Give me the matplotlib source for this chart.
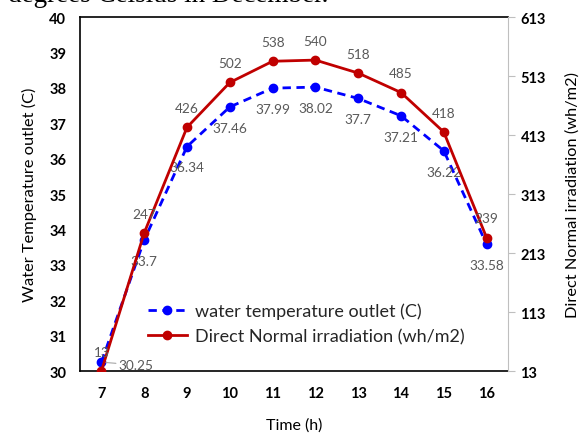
import matplotlib.pyplot as plt

plt.rcParams['font.family'] = ['Lato', 'DejaVu Sans']

hours = [7, 8, 9, 10, 11, 12, 13, 14, 15, 16]
water_temp = [30.25, 33.7, 36.34, 37.46, 37.99, 38.02, 37.7, 37.21, 36.22, 33.58]
dni = [13, 247, 426, 502, 538, 540, 518, 485, 418, 239]
temp_ticks = [30, 31, 32, 33, 34, 35, 36, 37, 38, 39, 40]
dni_ticks = [13, 113, 213, 313, 413, 513, 613]

label_grey = '#595959'

fig = plt.figure(figsize=(5.87, 4.35), dpi=100)
ax = fig.add_axes([0.1363, 0.1448, 0.7291, 0.8138])
ax2 = ax.twinx()

l1, = ax.plot(hours, water_temp, color='#0000FF', lw=2, ls=(0, (3, 2)),
              marker='o', ms=6, label='water temperature outlet (C)', zorder=3)
l2, = ax2.plot(hours, dni, color='#C00000', lw=2, marker='o', ms=6,
               label='Direct Normal irradiation (wh/m2)', zorder=3)

ax.set_xlim(6.5, 16.5)
ax.set_ylim(30, 40)
ax2.set_ylim(13, 613)
ax.set_xticks(hours)
ax.set_yticks(temp_ticks)
ax2.set_yticks(dni_ticks)

for a in (ax, ax2):
    for lab in a.get_xticklabels() + a.get_yticklabels():
        lab.set_fontweight('bold')
        lab.set_fontsize(10.5)

ax.tick_params(axis='both', length=0, pad=10)
ax.tick_params(axis='x', pad=11)
ax2.tick_params(axis='y', length=5, color='#BFBFBF', pad=4)

for s in ('left', 'bottom', 'top'):
    ax.spines[s].set_color('black')
    ax.spines[s].set_linewidth(1.2)
ax2.spines['right'].set_color('#BFBFBF')
ax2.spines['top'].set_visible(False)
ax2.spines['left'].set_visible(False)
ax2.spines['bottom'].set_visible(False)
ax.spines['right'].set_visible(False)

ax.set_ylabel('Water Temperature outlet (C)', fontsize=11.8, labelpad=9)
ax2.set_ylabel('Direct Normal irradiation (wh/m2)', fontsize=11.8, labelpad=14)
ax.set_xlabel('Time (h)', fontsize=11.5, labelpad=12)

# value labels: irradiation above, temperature below
for h, v in zip(hours, dni):
    ax2.annotate(str(v), (h, v), xytext=(0, 14), textcoords='offset points',
                 ha='center', va='center', fontsize=9.8, color=label_grey)
for h, t in zip(hours, water_temp):
    if h == 7:
        ax.annotate(f'{t:g}', (h, t), xytext=(25, -2), textcoords='offset points',
                    ha='center', va='center', fontsize=9.8, color=label_grey,
                    arrowprops=dict(arrowstyle='-', color='#A6A6A6', lw=0.8,
                                    shrinkA=13, shrinkB=3))
    else:
        ax.annotate(f'{t:g}', (h, t), xytext=(0, -15), textcoords='offset points',
                    ha='center', va='center', fontsize=9.8, color=label_grey)

ax.legend(handles=[l1, l2], loc='lower left', bbox_to_anchor=(0.12, 0.03),
          frameon=False, fontsize=13, handlelength=2.2, handletextpad=0.4,
          labelspacing=0.5, labelcolor='#262626')

fig.text(8 / 587, 1 - 2.5 / 435, 'degrees Celsius in December.', family='Liberation Serif',
         fontsize=19.5, va='baseline', ha='left', color='black')

fig.savefig('out.png', dpi=100)
